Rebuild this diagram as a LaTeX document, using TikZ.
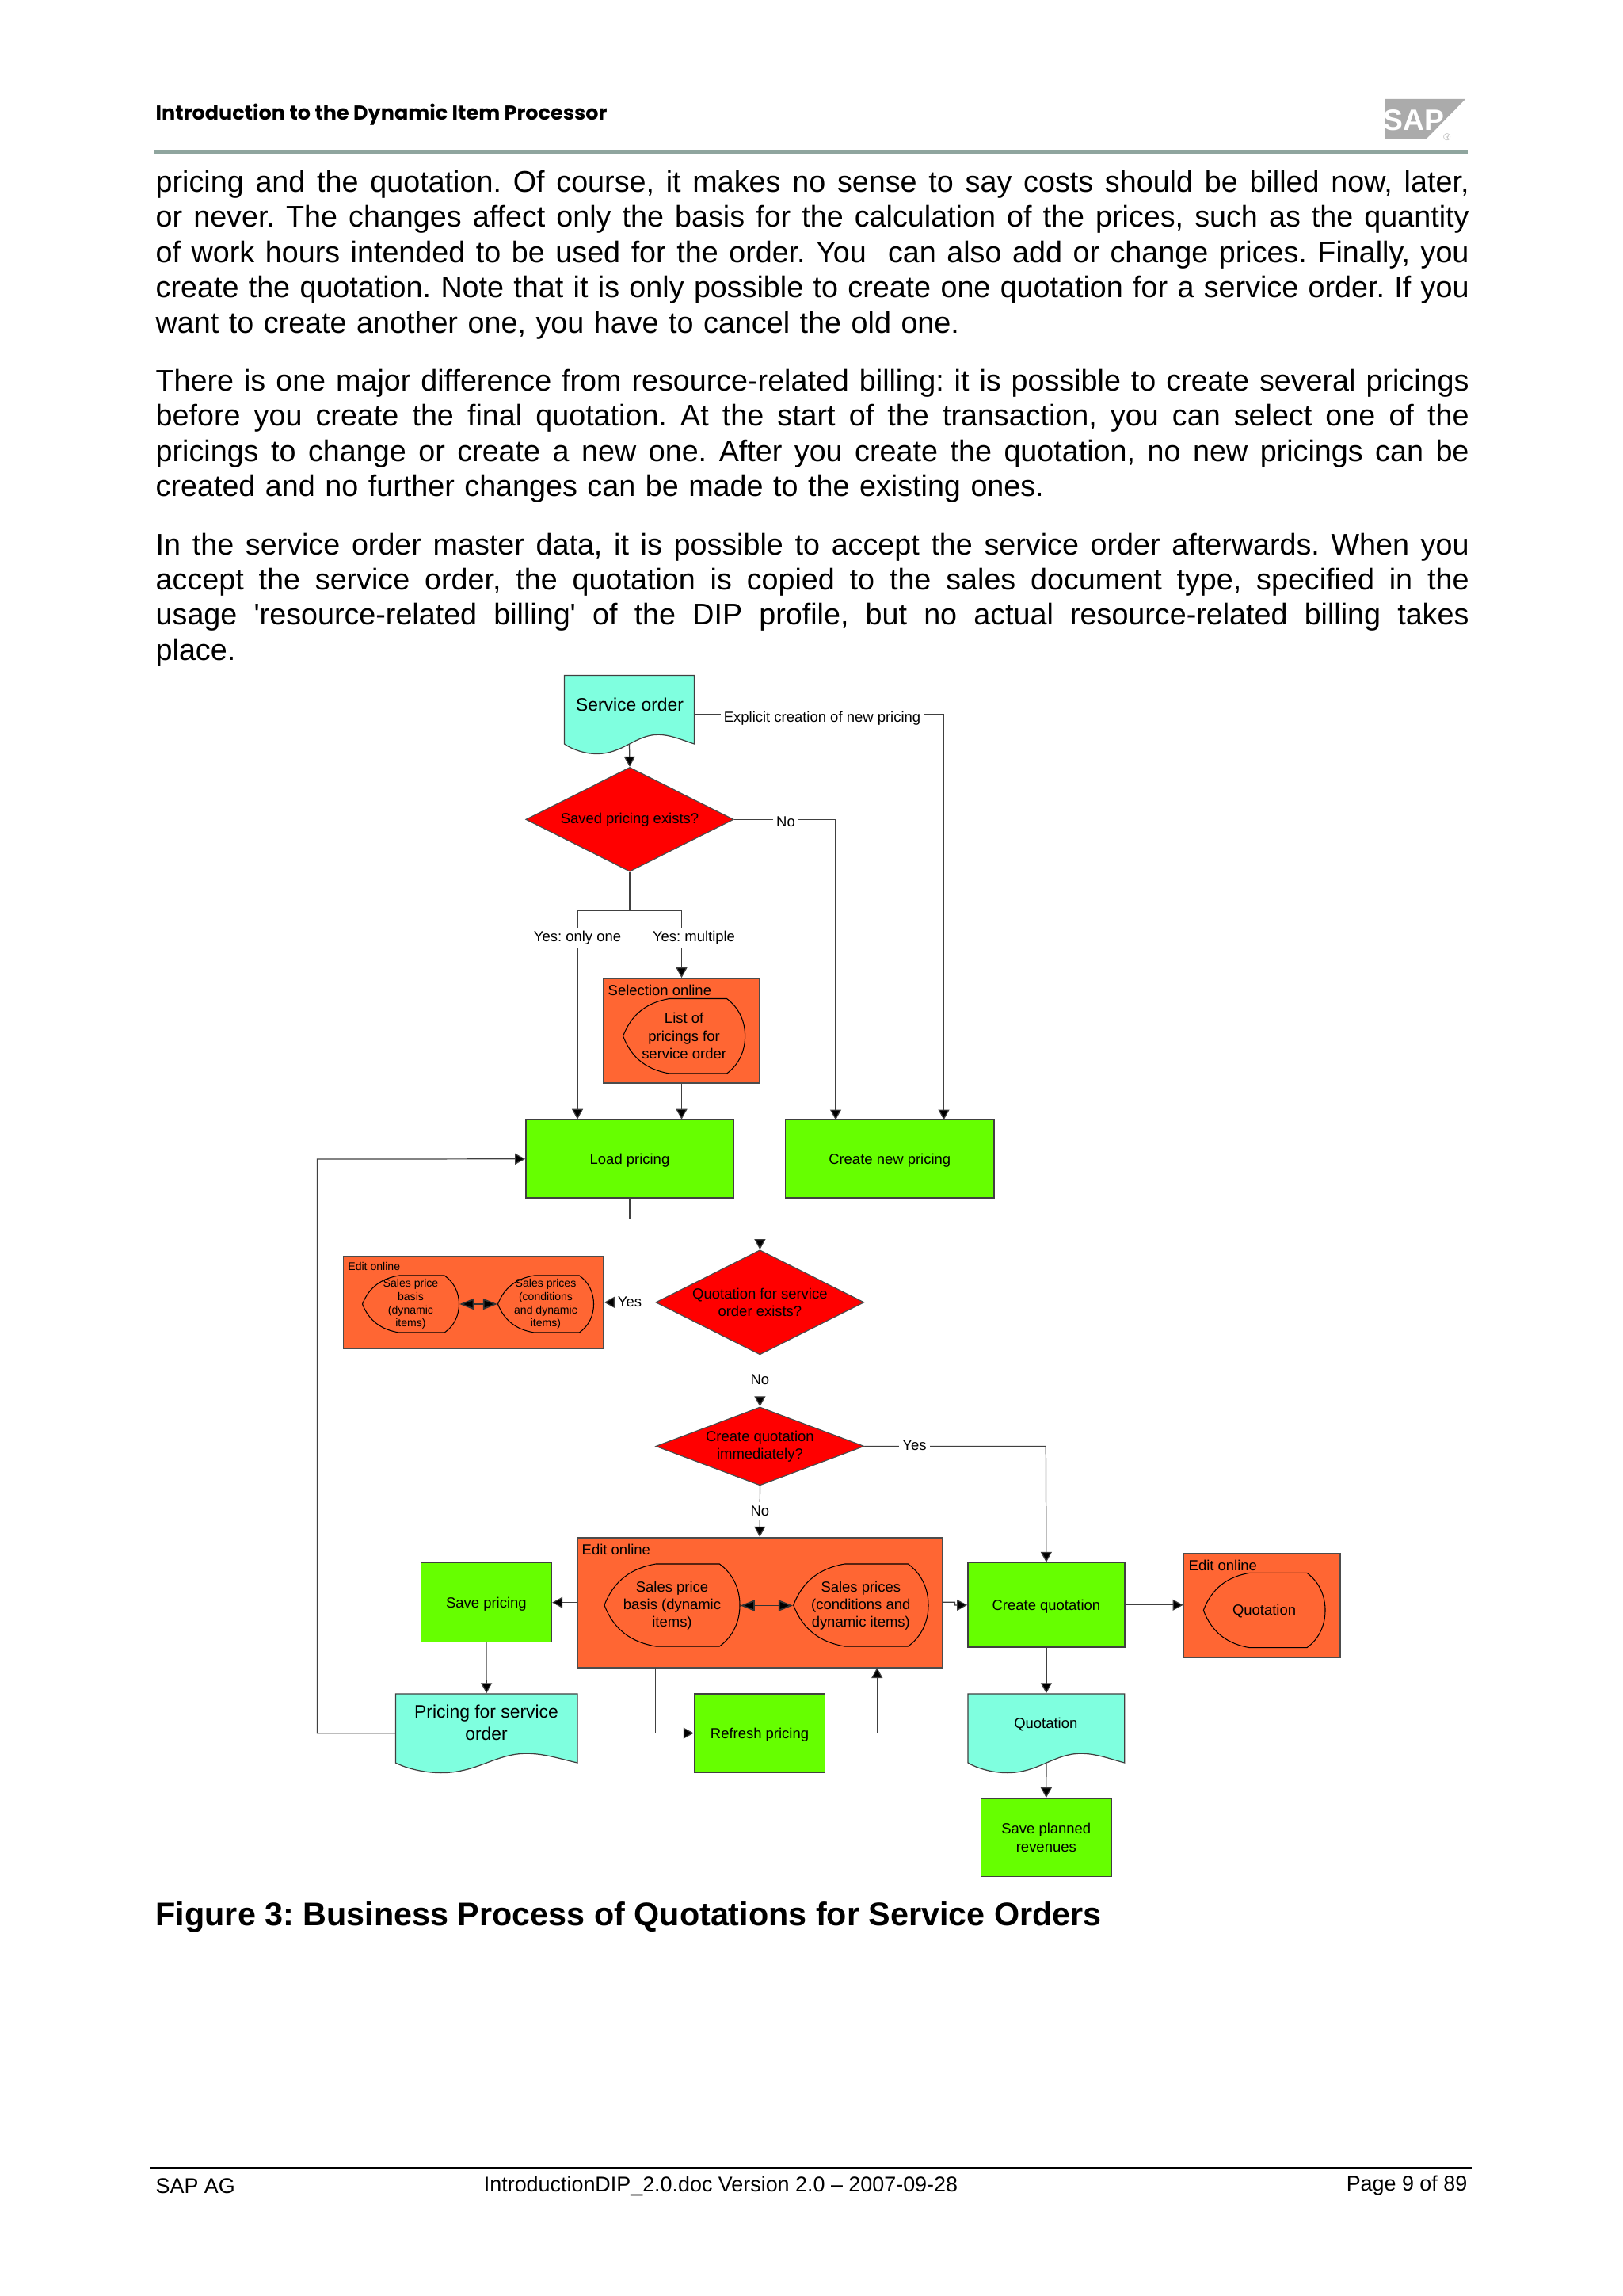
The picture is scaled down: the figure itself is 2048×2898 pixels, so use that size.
\documentclass[tikz,border=0pt]{standalone}
\usepackage{fontspec}
\setmainfont{Liberation Sans}
\newfontfamily\headfont{Poppins}
\usetikzlibrary{arrows.meta,shapes.geometric,positioning}
\AtBeginDocument{\frenchspacing}

\definecolor{docfill}{HTML}{7FFFDF}
\definecolor{procfill}{HTML}{66FF00}
\definecolor{askfill}{HTML}{FF0000}
\definecolor{editfill}{HTML}{FF6633}
\definecolor{rulegray}{HTML}{8FA59E}
\definecolor{logogray}{HTML}{ABABAB}

\newcommand{\smalltext}{\fontsize{5.25}{6.3}\selectfont}
\newcommand{\tinytext}{\fontsize{4}{4.75}\selectfont}
\newcommand{\doctext}{\fontsize{6.5}{8}\selectfont}
\newcommand{\foottext}{\fontsize{7.65}{9}\selectfont}
\newcommand{\jline}[1]{\makebox[16.57cm][s]{\spaceskip=0pt\xspaceskip=0pt\relax #1}\\}

\newcommand{\dispoutline}[4]{%
  \begin{scope}[shift={(#1,#2)},xscale=#3,yscale=#4]
    \draw[displine] (0,.5) .. controls (.07,.2) and (.2,.05) .. (.38,0) -- (.85,0)
      .. controls (.95,.12) and (1,.3) .. (1,.5) .. controls (1,.7) and (.95,.88) .. (.85,1)
      -- (.38,1) .. controls (.2,.95) and (.07,.8) .. (0,.5) -- cycle;
  \end{scope}}
\newcommand{\docoutline}[4]{%
  \begin{scope}[shift={(#1,#2)},xscale=#3,yscale=#4]
    \draw[docline] (0,0) -- (1,0) -- (1,1) .. controls (.9,.94) and (.82,.865) .. (.72,.865)
      .. controls (.55,.865) and (.45,1.145) .. (.25,1.145) .. controls (.15,1.145) and (.05,1.07) .. (0,1) -- cycle;
  \end{scope}}

\tikzset{
  flow/.style={draw=black!75,line width=.35pt,-{Triangle[length=.13cm,width=.14cm,fill=black]}},
  flowplain/.style={draw=black!75,line width=.35pt},
  flowboth/.style={draw=black!80,line width=.5pt,{Triangle[length=.18cm,width=.14cm,fill=black]}-{Triangle[length=.18cm,width=.14cm,fill=black]}},
  procbox/.style={draw=black!75,line width=.45pt,fill=procfill,align=center,inner sep=0pt,font=\smalltext},
  oneline/.style={text height=4.8pt,text depth=1.1pt},
  askbox/.style={diamond,aspect=2.65,draw=black!70,line width=.35pt,fill=askfill,align=center,inner sep=-3mm,font=\smalltext},
  editbox/.style={draw=black!70,line width=.45pt,fill=editfill,inner sep=0pt},
  edithead/.style={anchor=west,inner sep=0pt,font=\smalltext},
  displine/.style={draw=black,line width=.3pt},
  disptext/.style={align=center,inner sep=0pt,font=\smalltext},
  docline/.style={draw=black!75,line width=.35pt,fill=docfill},
  docarea/.style={inner sep=0pt},
  labeltext/.style={fill=white,inner sep=1.2pt,font=\smalltext},
  pagetext/.style={anchor=north west,inner sep=0pt,text width=16.57cm,align=left,font=\fontsize{10.72}{12.63}\selectfont},
}

\begin{document}
\begin{tikzpicture}[x=0.01cm,y=-0.01cm]
\useasboundingbox (0,0) rectangle (2048,2898);

% page head
\node[anchor=west,inner sep=0pt,font=\headfont\bfseries\fontsize{7.25}{9}\selectfont] (headtitle) at (196,144.5) {Introduction to the Dynamic Item Processor};
\fill[logogray] (1748,125) -- (1850,125) -- (1801,175) -- (1748,175) -- cycle;
\node[inner sep=0pt,text=white,font=\bfseries\fontsize{10.6}{10.6}\selectfont] (logotext) at (1785,152) {SAP};
\node[inner sep=0pt,text=logogray,font=\fontsize{3.5}{4}\selectfont] (logomark) at (1827,173) {®};
\fill[rulegray] (195,189) rectangle (1853,195);

% body text
\node[pagetext] (para1) at (196,214.5) {%
\jline{pricing and the quotation. Of course, it makes no sense to say costs should be billed now, later,}
\jline{or never. The changes affect only the basis for the calculation of the prices, such as the quantity}
\jline{of work hours intended to be used for the order. You\ \ can also add or change prices. Finally, you}
\jline{create the quotation. Note that it is only possible to create one quotation for a service order. If you}
want to create another one, you have to cancel the old one.};
\node[pagetext] (para2) at (196,465.5) {%
\jline{There is one major difference from resource-related billing: it is possible to create several pricings}
\jline{before you create the final quotation. At the start of the transaction, you can select one of the}
\jline{pricings to change or create a new one. After you create the quotation, no new pricings can be}
created and no further changes can be made to the existing ones.};
\node[pagetext] (para3) at (196,672) {%
\jline{In the service order master data, it is possible to accept the service order afterwards. When you}
\jline{accept the service order, the quotation is copied to the sales document type, specified in the}
\jline{usage \textquotesingle resource-related billing\textquotesingle{} of the DIP profile, but no actual resource-related billing takes}
place.};

% documents
\docoutline{712.5}{852.5}{164}{86.5}
\node[docarea,minimum width=1.64cm,minimum height=.865cm] (order) at (794.5,895.7) {};
\node[inner sep=0pt,font=\doctext] (ordertext) at (795,889.6) {Service order};
\docoutline{499.4}{2138}{229.6}{87}
\node[docarea,minimum width=2.296cm,minimum height=.87cm] (pricingdoc) at (614.2,2181.5) {};
\node[inner sep=0pt,align=center,font=\doctext] (pricingtext) at (614,2174.7) {Pricing for service\\order};
\docoutline{1222}{2138}{197.8}{87}
\node[docarea,minimum width=1.978cm,minimum height=.87cm] (quotedoc) at (1320.9,2181.5) {};
\node[inner sep=0pt,font=\smalltext] (quotetext) at (1320.3,2176.8) {Quotation};

% decisions
\node[askbox,minimum width=2.62cm,minimum height=1.315cm] (savedask) at (795,1034.3) {Saved pricing exists?};
\node[askbox,minimum width=2.627cm,minimum height=1.32cm] (quoteask) at (959.4,1643.8) {Quotation for service\\order exists?};
\node[askbox,minimum width=2.627cm,minimum height=.988cm] (nowask) at (959.4,1825.4) {Create quotation\\immediately?};

% process boxes
\node[procbox,oneline,minimum width=2.62cm,minimum height=.985cm] (load) at (795,1462.8) {Load pricing};
\node[procbox,oneline,minimum width=2.635cm,minimum height=.985cm] (newprice) at (1123.2,1462.8) {Create new pricing};
\node[procbox,oneline,minimum width=1.648cm,minimum height=.996cm] (save) at (613.9,2022.5) {Save pricing};
\node[procbox,oneline,minimum width=1.647cm,minimum height=.993cm] (refresh) at (959,2187.6) {Refresh pricing};
\node[procbox,oneline,minimum width=1.978cm,minimum height=1.063cm] (create) at (1320.9,2025.8) {Create quotation};
\node[procbox,minimum width=1.649cm,minimum height=.987cm] (planned) at (1320.8,2319.3) {Save planned\\revenues};

% online boxes
\node[editbox,minimum width=1.97cm,minimum height=1.32cm] (sel) at (860.5,1301) {};
\node[edithead] (selhead) at (767,1250) {Selection online};
\dispoutline{786.6}{1260.5}{154}{94.5}
\node[disptext,minimum width=1.54cm,minimum height=.945cm] (sellist) at (863.6,1307.5) {List of\\pricings for\\service order};

\node[editbox,minimum width=3.284cm,minimum height=1.16cm] (editup) at (597.8,1643.8) {};
\node[edithead,font=\tinytext] (edituphead) at (438.7,1598.8) {Edit online};
\dispoutline{457.5}{1610}{122}{72}
\node[disptext,font=\tinytext,minimum width=1.22cm,minimum height=.72cm] (basisup) at (518.5,1646) {Sales price\\basis\\(dynamic\\items)};
\dispoutline{628.5}{1610}{121}{72}
\node[disptext,font=\tinytext,minimum width=1.21cm,minimum height=.72cm] (pricesup) at (689,1646) {Sales prices\\(conditions\\and dynamic\\items)};

\node[editbox,minimum width=4.604cm,minimum height=1.643cm] (editmid) at (959.2,2022.9) {};
\node[edithead] (editmidhead) at (734,1956) {Edit online};
\dispoutline{763}{1974}{171}{104}
\node[disptext,minimum width=1.71cm,minimum height=1.04cm] (basismid) at (848.5,2026.5) {Sales price\\basis (dynamic\\items)};
\dispoutline{1001.7}{1974}{170.3}{104}
\node[disptext,minimum width=1.703cm,minimum height=1.04cm] (pricesmid) at (1086.8,2026.5) {Sales prices\\(conditions and\\dynamic items)};

\node[editbox,minimum width=1.976cm,minimum height=1.313cm] (editquote) at (1593.2,2026.3) {};
\node[edithead] (editquotehead) at (1500,1976) {Edit online};
\dispoutline{1519.3}{1985.3}{153.7}{94.4}
\node[disptext,minimum width=1.537cm,minimum height=.944cm] (quoteitem) at (1596,2034) {Quotation};

% connector ends
\coordinate (orderout) at (876.5,902);
\coordinate (newtopr) at (1191.5,1413.5);
\coordinate (newtopl) at (1055,1413.5);
\coordinate (savedfork) at (795,1149);
\coordinate (forkl) at (729,1149);
\coordinate (forkr) at (860.5,1149);
\coordinate (mergey) at (959.4,1538.7);
\coordinate (yesquote) at (1320.3,1825.4);
\coordinate (pricingout) at (499.4,2187.7);
\coordinate (returnx) at (400.5,1463);
\coordinate (midleft) at (729,2022.7);
\coordinate (midright) at (1189.4,2022.3);
\coordinate (midjoga) at (1205.5,2022.3);
\coordinate (midjogb) at (1205.5,2026);
\coordinate (refreshout) at (827.8,2105);
\coordinate (refreshback) at (1107.3,2105);

% connectors
\draw[flow] (order.south) -- (savedask.north);
\draw[flow] (orderout) -| (newtopr);
\draw[flow] (savedask.east) -| (newtopl);
\draw[flowplain] (savedask.south) -- (savedfork);
\draw[flow] (savedfork) -- (forkl) -- (load.north -| forkl);
\draw[flow] (savedfork) -- (forkr) -- (sel.north);
\draw[flow] (sel.south) -- (load.north -| sel.south);
\draw[flowplain] (load.south) |- (mergey);
\draw[flowplain] (newprice.south) |- (mergey);
\draw[flow] (mergey) -- (quoteask.north);
\draw[flow] (quoteask.west) -- (editup.east |- quoteask.west);
\draw[flowboth] (basisup.east) -- (pricesup.west);
\draw[flow] (quoteask.south) -- (nowask.north);
\draw[flow] (nowask.east) -- (yesquote) -- (create.north);
\draw[flow] (nowask.south) -- (editmid.north);
\draw[flowboth] (basismid.east) -- (pricesmid.west);
\draw[flow] (midleft) -- (save.east |- midleft);
\draw[flow] (save.south) -- (pricingdoc.north);
\draw[flow] (pricingout) -| (returnx) -- (load.west);
\draw[flow] (refreshout) |- (refresh.west);
\draw[flow] (refresh.east) -| (refreshback);
\draw[flow] (midright) -- (midjoga) -- (midjogb) -- (create.west);
\draw[flow] (create.east) -- (editquote.west |- create.east);
\draw[flow] (create.south) -- (quotedoc.north);
\draw[flow] (quotedoc.south) -- (planned.north);

% connector labels
\node[labeltext] (lblexplicit) at (1038,906.5) {Explicit creation of new pricing};
\node[labeltext] (lblno) at (992,1037.5) {No};
\node[labeltext] (lblonly) at (729,1183.5) {Yes: only one};
\node[labeltext] (lblmulti) at (876,1183.5) {Yes: multiple};
\node[labeltext] (lblyesup) at (795,1643) {Yes};
\node[labeltext] (lblnoa) at (959.4,1741.6) {No};
\node[labeltext] (lblyesmid) at (1154.5,1824.6) {Yes};
\node[labeltext] (lblnob) at (959.4,1907) {No};

% caption and foot
\node[anchor=west,inner sep=0pt,font=\bfseries\fontsize{11.75}{14}\selectfont] (figcaption) at (196,2419.5) {Figure 3: Business Process of Quotations for Service Orders};
\draw[line width=.7pt] (190,2736.5) -- (1858,2736.5);
\node[anchor=west,inner sep=0pt,font=\foottext] (footcompany) at (196,2759) {SAP AG};
\node[inner sep=0pt,font=\foottext] (footfile) at (910,2759) {IntroductionDIP\_2.0.doc Version 2.0 – 2007-09-28};
\node[anchor=east,inner sep=0pt,font=\foottext] (footpage) at (1853,2759) {Page 9 of 89};
\end{tikzpicture}
\end{document}
